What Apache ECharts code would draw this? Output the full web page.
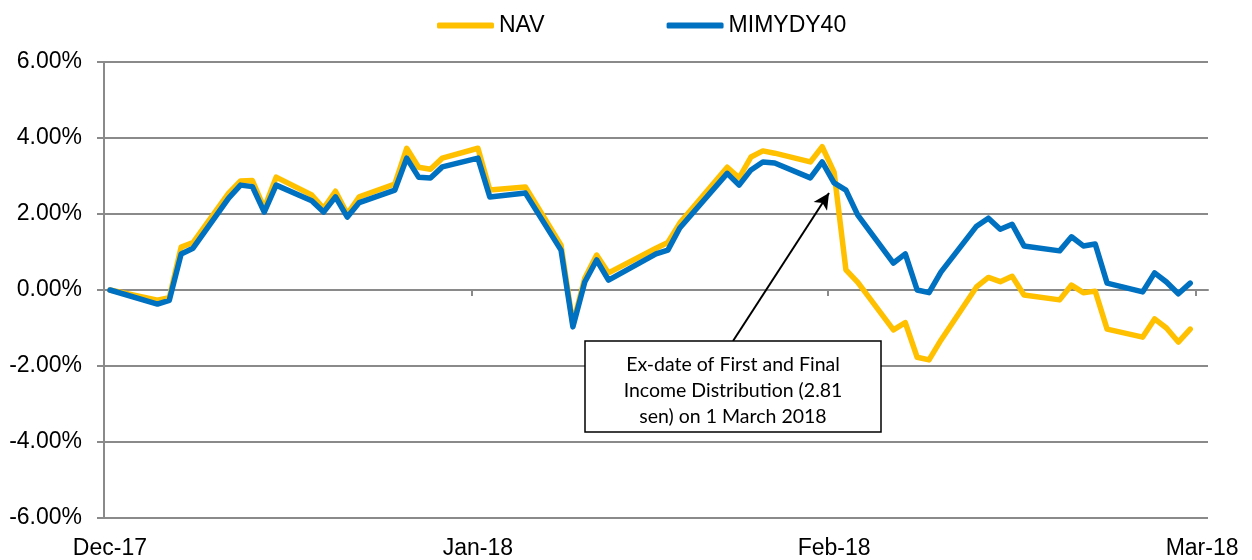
<!DOCTYPE html>
<html>
<head>
<meta charset="utf-8">
<script src="https://cdn.jsdelivr.net/npm/echarts@6/dist/echarts.min.js"></script>
<style>
  html, body { margin: 0; padding: 0; background: #fff; }
  #main { width: 1252px; height: 560px; }
</style>
</head>
<body>
<div id="main"></div>
<script>
// 交易日序号 (0 = 1 Dec 2017)，周末/假日为 null，连线跨过
var dayCount = 93;
var tickIndex = [0, 31, 61, 92];
var tickLabels = ['Dec-17', 'Jan-18', 'Feb-18', 'Mar-18'];

var navData = [
    0, null, null, null, -0.27, -0.20, 1.13, 1.25, null, null,
    2.55, 2.87, 2.88, 2.15, 2.97, null, null, 2.50, 2.15, 2.60,
    2.00, 2.45, null, null, 2.79, 3.73, 3.23, 3.18, 3.47, null,
    null, 3.73, 2.63, null, null, 2.71, null, null, 1.18, -0.90,
    0.31, 0.92, 0.45, null, null, null, 1.10, 1.25, 1.76, null,
    null, null, 3.23, 2.95, 3.50, 3.66, 3.60, null, null, 3.37,
    3.77, 3.10, 0.53, 0.20, null, null, -1.05, -0.86, -1.77, -1.84,
    -1.32, null, null, 0.08, 0.33, 0.22, 0.36, -0.13, null, null,
    -0.26, 0.13, -0.07, -0.03, -1.03, null, null, -1.24, -0.76, -1.00,
    -1.37, -1.03
];
var idxData = [
    0, null, null, null, -0.37, -0.27, 0.95, 1.10, null, null,
    2.42, 2.76, 2.72, 2.05, 2.76, null, null, 2.35, 2.05, 2.45,
    1.92, 2.30, null, null, 2.63, 3.47, 2.97, 2.95, 3.24, null,
    null, 3.47, 2.45, null, null, 2.55, null, null, 1.05, -0.97,
    0.21, 0.79, 0.26, null, null, null, 0.95, 1.05, 1.63, null,
    null, null, 3.07, 2.76, 3.16, 3.37, 3.34, null, null, 2.95,
    3.37, 2.82, 2.63, 1.97, null, null, 0.71, 0.95, 0.00, -0.07,
    0.47, null, null, 1.68, 1.89, 1.60, 1.73, 1.16, null, null,
    1.03, 1.40, 1.16, 1.21, 0.18, null, null, -0.05, 0.45, 0.21,
    -0.10, 0.18
];

var days = [];
for (var i = 0; i < dayCount; i++) { days.push(String(i)); }

var font = 'Liberation Sans, Arial, sans-serif';
var gridColor = '#8a8a8a';

var myChart = echarts.init(document.getElementById('main'));

var option = {
    animation: false,
    backgroundColor: '#fff',
    grid: { left: 104, right: 44, top: 62, bottom: 42, containLabel: false },
    legend: {
        top: 9,
        left: 432,
        itemWidth: 57,
        itemHeight: 6,
        itemGap: 122,
        icon: 'roundRect',
        textStyle: { fontFamily: font, fontSize: 23, color: '#000' },
        data: ['NAV', 'MIMYDY40']
    },
    xAxis: [{
        // 底部标签 (数据轴)
        type: 'category',
        data: days,
        position: 'bottom',
        boundaryGap: true,
        axisLine: { show: false, onZero: false },
        axisTick: { show: false },
        axisLabel: {
            show: true,
            margin: 19,
            interval: function (i) { return tickIndex.indexOf(i) >= 0; },
            formatter: function (v, i) {
                var k = tickIndex.indexOf(i);
                return k >= 0 ? tickLabels[k] : '';
            },
            fontFamily: font, fontSize: 23, color: '#000'
        }
    }, {
        // 零线上的刻度 (按类目边界)
        type: 'value',
        min: 0,
        max: dayCount,
        position: 'top',
        axisLine: { show: true, onZero: true, lineStyle: { color: gridColor, width: 2 } },
        axisTick: {
            show: true, inside: true, length: 6,
            customValues: tickIndex.slice(1),
            lineStyle: { color: gridColor, width: 2 }
        },
        axisLabel: { show: false },
        splitLine: { show: false }
    }],
    yAxis: {
        type: 'value',
        min: -6,
        max: 6,
        interval: 2,
        axisLine: { show: true, lineStyle: { color: gridColor, width: 2 } },
        axisTick: { show: true, length: 7, lineStyle: { color: gridColor, width: 2 } },
        axisLabel: {
            margin: 22,
            formatter: function (v) { return v.toFixed(2) + '%'; },
            fontFamily: font, fontSize: 23, color: '#000'
        },
        splitLine: { show: true, lineStyle: { color: gridColor, width: 2 } }
    },
    series: [{
        name: 'NAV',
        type: 'line',
        xAxisIndex: 0,
        data: navData,
        connectNulls: true,
        symbol: 'none',
        color: '#FFC000',
        lineStyle: { width: 5.5, color: '#FFC000', cap: 'round', join: 'round' }
    }, {
        name: 'MIMYDY40',
        type: 'line',
        xAxisIndex: 0,
        data: idxData,
        connectNulls: true,
        symbol: 'none',
        color: '#0070C0',
        lineStyle: { width: 5.5, color: '#0070C0', cap: 'round', join: 'round' },
        markLine: {
            silent: true,
            symbol: ['none', 'arrow'],
            symbolSize: [12, 16],
            label: { show: false },
            lineStyle: { color: '#000', width: 2, type: 'solid' },
            data: [[{ x: 733, y: 341 }, { x: 829, y: 193 }]]
        }
    }],
    graphic: [{
        type: 'rect',
        shape: { x: 585, y: 341, width: 296, height: 91 },
        style: { fill: '#fff', stroke: '#000', lineWidth: 1.5 },
        z: 100
    }, {
        type: 'text',
        x: 733,
        y: 391,
        z: 101,
        style: {
            text: 'Ex-date of First and Final\nIncome Distribution (2.81\nsen) on 1 March 2018',
            fill: '#000',
            font: '19.5px Lato, "Open Sans", sans-serif',
            lineHeight: 26,
            align: 'center',
            verticalAlign: 'middle'
        }
    }]
};

myChart.setOption(option);
</script>
</body>
</html>
